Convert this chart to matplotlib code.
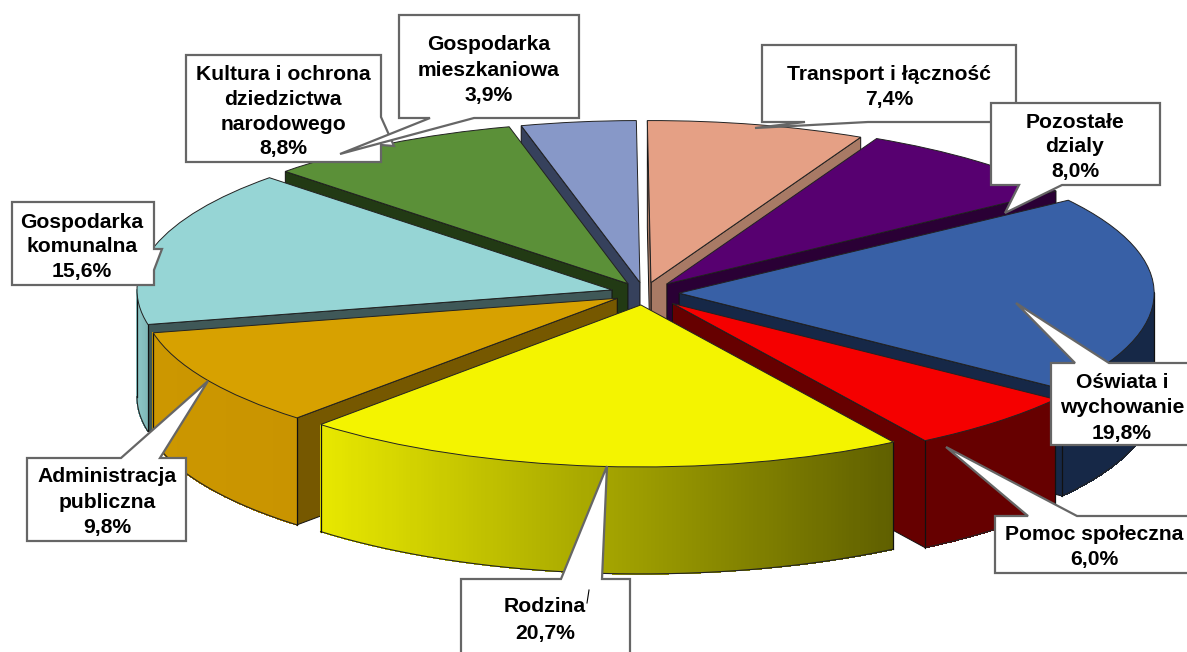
import numpy as np
import matplotlib
matplotlib.use("Agg")
import matplotlib.pyplot as plt
from matplotlib.colors import to_rgb
from matplotlib.patches import Polygon

# ---- data -------------------------------------------------------------
categories = ["Oświata i\nwychowanie", "Pomoc społeczna", "Rodzina",
              "Administracja\npubliczna", "Gospodarka\nkomunalna",
              "Kultura i ochrona\ndziedzictwa\nnarodowego",
              "Gospodarka\nmieszkaniowa", "Transport i łączność",
              "Pozostałe\ndzialy"]
values = [19.8, 6.0, 20.7, 9.8, 15.6, 8.8, 3.9, 7.4, 8.0]

# ---- style ------------------------------------------------------------
top_colors = ["#3860a6", "#f50000", "#f4f400", "#d7a100", "#96d5d5",
              "#5b9038", "#8798c8", "#e5a085", "#570070"]
side_colors = ["#162847", "#660000", "#8a8a00", "#765800", "#3f5858",
               "#223a14", "#36415c", "#a87a65", "#2a0035"]
wall_left = ["#162847", "#660000", "#e8e800", "#cc9700", "#8ec8c8",
             "#223a14", "#36415c", "#a87a65", "#2a0035"]
wall_right = ["#162847", "#660000", "#5f5f00", "#c99400", "#80b8b8",
              "#223a14", "#36415c", "#a87a65", "#2a0035"]
explode = [0.074, 0.088, 0.074, 0.065, 0.07, 0.067, 0.065, 0.066, 0.074]
paint_order = [6, 5, 7, 8, 4, 0, 3, 1, 2]

W, H = 1187, 652
CX, CY, RX, RY, DEPTH = 644, 293, 475, 162, 107 / 162

fig = plt.figure(figsize=(W / 100, H / 100), dpi=100, facecolor="white")
ax = fig.add_axes([0, 0, 1, 1])
wedges, _ = ax.pie(values, explode=explode, startangle=35, counterclock=False,
                   colors=top_colors, normalize=True,
                   wedgeprops=dict(edgecolor="#222222", linewidth=0.7))
ax.set_aspect("auto")
ax.set_xlim(-CX / RX, (W - CX) / RX)
ax.set_ylim(-(H - CY) / RY, CY / RY)
ax.axis("off")

for rank, i in enumerate(paint_order):
    w = wedges[i]
    z = 10 + rank * 10
    w.set_zorder(z + 5)
    cx, cy = w.center
    t1, t2 = w.theta1, w.theta2

    # radial cut faces that look towards the viewer
    for a, visible in ((t1, np.cos(np.radians(t1)) > 0),
                       (t2, np.cos(np.radians(t2)) < 0)):
        if visible:
            rx, ry = cx + np.cos(np.radians(a)), cy + np.sin(np.radians(a))
            ax.add_patch(Polygon([(cx, cy), (rx, ry), (rx, ry - DEPTH), (cx, cy - DEPTH)],
                                 closed=True, facecolor=side_colors[i],
                                 edgecolor="#111111", linewidth=0.7, zorder=z + 1))

    # outer rim
    th = np.radians(np.linspace(t1, t2, int((t2 - t1) * 2) + 2))
    th = th[np.sin(th) <= 0.005]
    if len(th) > 1:
        xs, ys = cx + np.cos(th), cy + np.sin(th)
        c0, c1 = np.array(to_rgb(wall_left[i])), np.array(to_rgb(wall_right[i]))
        for k in range(len(th) - 1):
            f = (xs[k] - xs.min()) / max(xs.max() - xs.min(), 1e-6)
            col = c0 + (c1 - c0) * f
            ax.add_patch(Polygon([(xs[k], ys[k]), (xs[k + 1], ys[k + 1]),
                                  (xs[k + 1], ys[k + 1] - DEPTH), (xs[k], ys[k] - DEPTH)],
                                 closed=True, facecolor=col, edgecolor=col,
                                 linewidth=0.5, antialiased=False, zorder=z + 2))
        ax.plot(xs, ys - DEPTH, color="#222222", lw=0.8, zorder=z + 3)
        for e in (0, -1):
            ax.plot([xs[e], xs[e]], [ys[e], ys[e] - DEPTH], color="#111111", lw=0.9, zorder=z + 3)

# ---- callouts (pixel layout) ------------------------------------------
over = fig.add_axes([0, 0, 1, 1], facecolor="none")
over.set_xlim(0, W)
over.set_ylim(H, 0)
over.axis("off")

# label index: outline, text centre x, first-line y, line step
callouts = [
    (5, [(186, 55), (381, 55), (381, 117), (394, 146), (381, 145), (381, 162), (186, 162)], 283, 75, 24.6),
    (6, [(399, 15), (579, 15), (579, 118), (474, 118), (340, 154), (430, 118), (399, 118)], 489, 45, 25),
    (4, [(12, 202), (154, 202), (154, 249), (162, 249), (154, 270), (154, 285), (12, 285)], 82, 222, 24.5),
    (3, [(27, 458), (121, 458), (208, 381), (160, 458), (186, 458), (186, 541), (27, 541)], 107, 477, 25.5),
    (2, [(461, 579), (561, 579), (607, 466), (602, 579), (630, 579), (630, 665), (461, 665)], 545, 607, 27),
    (1, [(995, 516), (1028, 516), (946, 447), (1077, 516), (1195, 516), (1195, 573), (995, 573)], 1094, 535, 25),
    (0, [(1051, 363), (1075, 363), (1016, 303), (1109, 363), (1195, 363), (1195, 445), (1051, 445)], 1122, 382, 25.5),
    (7, [(762, 45), (1016, 45), (1016, 122), (868, 122), (755, 128), (805, 122), (762, 122)], 889, 74, 25),
    (8, [(991, 103), (1160, 103), (1160, 185), (1062, 185), (1005, 213), (1019, 185), (991, 185)], 1075, 122, 25),
]
for n, (i, outline, tx, ty, step) in enumerate(callouts):
    over.add_patch(Polygon(outline, closed=True, facecolor="white", edgecolor="#666666",
                           linewidth=1.6, joinstyle="miter", zorder=10 + n * 2))
    lines = categories[i].split("\n") + [f"{values[i]:.1f}".replace(".", ",") + "%"]
    for j, line in enumerate(lines):
        over.text(tx, ty + j * step, line, ha="center", va="center", fontsize=15.2,
                  fontweight="bold", family="Liberation Sans", color="black", zorder=11 + n * 2)
over.plot([589, 587], [590, 603], color="black", lw=0.8, zorder=60)

fig.savefig("out.png", dpi=100, facecolor="white")
